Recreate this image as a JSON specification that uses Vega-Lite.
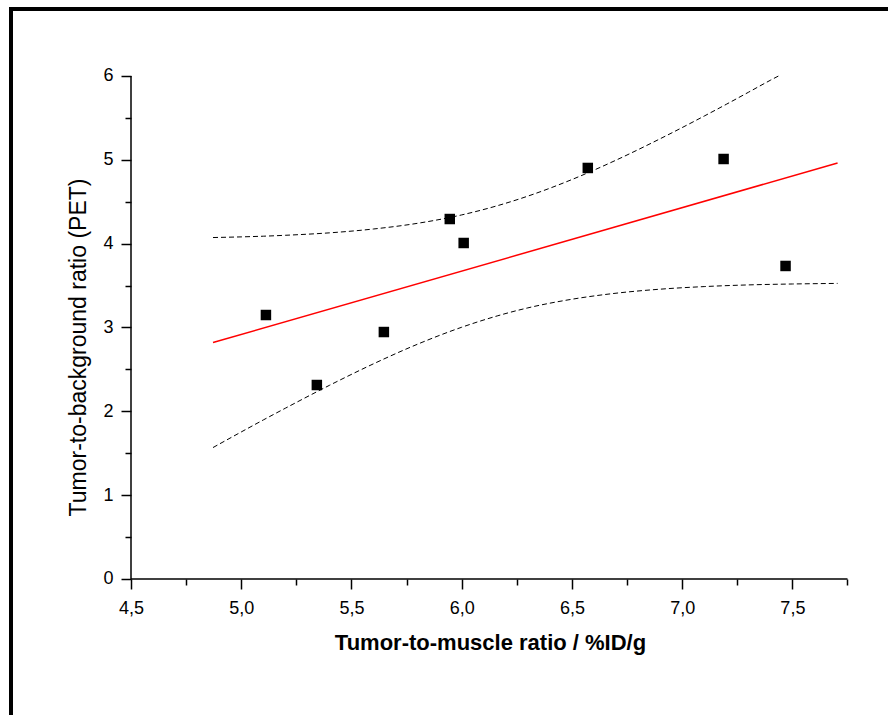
{
  "$schema": "https://vega.github.io/schema/vega-lite/v6.json",
  "usermeta": {"embedOptions": {"actions": false}},
  "autosize": "none",
  "width": 890,
  "height": 720,
  "padding": {"left": 11, "top": 9, "right": -13, "bottom": -14},
  "background": "white",
  "config": {
    "view": {"stroke": "black", "strokeWidth": 4},
    "font": "Liberation Sans"
  },
  "encoding": {
    "x": {
      "field": "x", "type": "quantitative",
      "scale": {"domain": [3.95568, 7.99269], "nice": false, "zero": false},
      "axis": {
        "values": [4.5, 4.75, 5.0, 5.25, 5.5, 5.75, 6.0, 6.25, 6.5, 6.75, 7.0, 7.25, 7.5, 7.75],
        "domain": false, "grid": false, "offset": -150,
        "tickSize": {"condition": {"test": "abs(datum.value*2-round(datum.value*2))<0.001", "value": 10}, "value": 6},
        "tickColor": "black", "tickWidth": 1.5,
        "labelExpr": "abs(datum.value*2-round(datum.value*2))<0.001 ? replace(format(datum.value,'.1f'),'.',',') : ''",
        "labelPadding": 10, "labelFontSize": 18, "labelColor": "black",
        "labelFlush": false, "labelOverlap": false,
        "title": "Tumor-to-muscle ratio / %ID/g",
        "titleFontSize": 22, "titleFontWeight": "bold", "titleColor": "black", "titlePadding": 15,
        "titleX": 479
      }
    },
    "y": {
      "field": "y", "type": "quantitative",
      "scale": {"domain": [-1.7893, 6.7992], "nice": false, "zero": false},
      "axis": {
        "values": [0, 0.5, 1, 1.5, 2, 2.5, 3, 3.5, 4, 4.5, 5, 5.5, 6],
        "domain": false, "grid": false, "offset": -120,
        "tickSize": {"condition": {"test": "abs(datum.value-round(datum.value))<0.001", "value": 10}, "value": 6},
        "tickColor": "black", "tickWidth": 1.5,
        "labelExpr": "abs(datum.value-round(datum.value))<0.001 ? format(datum.value,'d') : ''",
        "labelPadding": 8, "labelFontSize": 18, "labelColor": "black",
        "labelFlush": false, "labelOverlap": false,
        "title": "Tumor-to-background ratio (PET)",
        "titleFontSize": 23, "titleFontWeight": "normal", "titleColor": "black", "titlePadding": 12,
        "titleY": 338
      }
    }
  },
  "layer": [
    {
      "data": {"values": [
        {"x": 4.5, "x2": 7.75, "y": 0, "y2": 0},
        {"x": 4.5, "x2": 4.5, "y": 0, "y2": 6}
      ]},
      "mark": {"type": "rule", "color": "black", "strokeWidth": 1.5},
      "encoding": {"x2": {"field": "x2"}, "y2": {"field": "y2"}}
    },
    {
      "data": {"values": [
        {"band": "upper", "x": 4.872, "y": 4.073},
        {"band": "upper", "x": 5.0, "y": 4.081},
        {"band": "upper", "x": 5.1, "y": 4.089},
        {"band": "upper", "x": 5.2, "y": 4.100},
        {"band": "upper", "x": 5.4, "y": 4.129},
        {"band": "upper", "x": 5.6, "y": 4.175},
        {"band": "upper", "x": 5.8, "y": 4.243},
        {"band": "upper", "x": 6.0, "y": 4.343},
        {"band": "upper", "x": 6.161, "y": 4.452},
        {"band": "upper", "x": 6.3, "y": 4.567},
        {"band": "upper", "x": 6.5, "y": 4.765},
        {"band": "upper", "x": 6.7, "y": 4.996},
        {"band": "upper", "x": 6.9, "y": 5.251},
        {"band": "upper", "x": 7.1, "y": 5.522},
        {"band": "upper", "x": 7.2, "y": 5.662},
        {"band": "upper", "x": 7.3, "y": 5.805},
        {"band": "upper", "x": 7.4, "y": 5.949},
        {"band": "upper", "x": 7.437, "y": 6.0},
        {"band": "lower", "x": 4.872, "y": 1.568},
        {"band": "lower", "x": 5.0, "y": 1.754},
        {"band": "lower", "x": 5.1, "y": 1.897},
        {"band": "lower", "x": 5.2, "y": 2.037},
        {"band": "lower", "x": 5.4, "y": 2.310},
        {"band": "lower", "x": 5.6, "y": 2.567},
        {"band": "lower", "x": 5.8, "y": 2.801},
        {"band": "lower", "x": 6.0, "y": 3.003},
        {"band": "lower", "x": 6.161, "y": 3.138},
        {"band": "lower", "x": 6.3, "y": 3.234},
        {"band": "lower", "x": 6.5, "y": 3.337},
        {"band": "lower", "x": 6.7, "y": 3.409},
        {"band": "lower", "x": 6.9, "y": 3.457},
        {"band": "lower", "x": 7.1, "y": 3.488},
        {"band": "lower", "x": 7.3, "y": 3.508},
        {"band": "lower", "x": 7.5, "y": 3.519},
        {"band": "lower", "x": 7.705, "y": 3.526}
      ]},
      "mark": {"type": "line", "color": "black", "strokeWidth": 1, "strokeDash": [5, 3], "interpolate": "monotone"},
      "encoding": {"detail": {"field": "band"}}
    },
    {
      "data": {"values": [
        {"x": 4.872, "y": 2.8205},
        {"x": 7.705, "y": 4.9623}
      ]},
      "mark": {"type": "line", "color": "#ff0000", "strokeWidth": 1.5},
      "encoding": {}
    },
    {
      "data": {"values": [
        {"x": 5.112, "y": 3.149},
        {"x": 5.343, "y": 2.314},
        {"x": 5.647, "y": 2.946},
        {"x": 5.946, "y": 4.294},
        {"x": 6.009, "y": 4.008},
        {"x": 6.572, "y": 4.903},
        {"x": 7.188, "y": 5.010},
        {"x": 7.469, "y": 3.734}
      ]},
      "mark": {"type": "point", "shape": "square", "filled": true, "color": "black", "opacity": 1, "size": 110},
      "encoding": {}
    }
  ]
}
